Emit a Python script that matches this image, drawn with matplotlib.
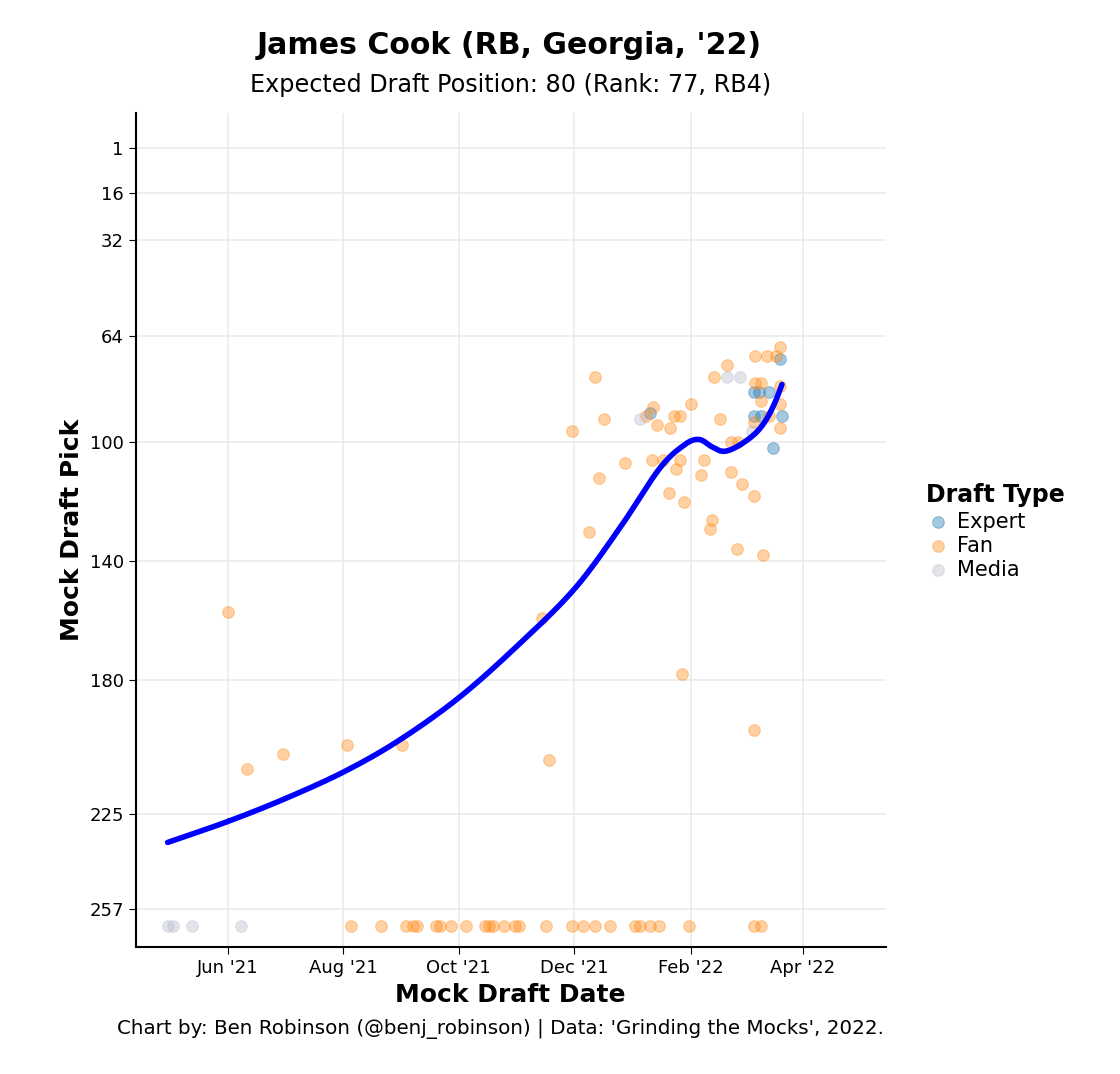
import matplotlib.pyplot as plt
import matplotlib.dates as mdates
import numpy as np
import pandas as pd

# draft picks (263 = undrafted row)
expert_dates = ['2022-01-10', '2022-03-06', '2022-03-09', '2022-03-06', '2022-03-10',
                '2022-03-14', '2022-03-20', '2022-03-21', '2022-03-16']
expert_picks = [90, 83, 83, 91, 91, 83, 72, 91, 102]

media_dates = ['2021-04-30', '2021-05-03', '2021-05-13', '2021-06-08',
               '2022-01-05', '2022-02-20', '2022-02-27', '2022-03-05']
media_picks = [263, 263, 263, 263, 92, 78, 78, 96]

fan_dates = ['2021-06-01', '2021-06-11', '2021-06-30', '2021-08-03', '2021-09-01',
             '2021-11-18', '2021-11-14', '2021-11-30', '2021-12-09', '2021-12-12',
             '2021-12-14', '2021-12-17', '2021-12-28', '2022-01-08', '2022-01-12',
             '2022-01-11', '2022-01-14', '2022-01-17', '2022-01-20', '2022-01-21',
             '2022-01-23', '2022-01-24', '2022-01-26', '2022-01-26', '2022-01-28',
             '2022-01-27', '2022-02-01', '2022-02-06', '2022-02-08', '2022-02-11',
             '2022-02-12', '2022-02-13', '2022-02-16', '2022-02-20', '2022-02-22',
             '2022-02-22', '2022-02-25', '2022-02-26', '2022-02-28', '2022-03-06',
             '2022-03-06', '2022-03-07', '2022-03-07', '2022-03-10', '2022-03-10',
             '2022-03-06', '2022-03-11', '2022-03-13', '2022-03-14', '2022-03-18',
             '2022-03-20', '2022-03-20', '2022-03-20', '2022-03-20',
             '2021-08-05', '2021-08-21', '2021-09-03', '2021-09-07', '2021-09-09',
             '2021-09-19', '2021-09-21', '2021-09-27', '2021-10-05', '2021-10-15',
             '2021-10-17', '2021-10-19', '2021-10-25', '2021-10-31', '2021-11-02',
             '2021-11-16', '2021-11-30', '2021-12-06', '2021-12-12', '2021-12-20',
             '2022-01-02', '2022-01-05', '2022-01-10', '2022-01-15', '2022-01-31',
             '2022-03-06', '2022-03-10']
fan_picks = [157, 210, 205, 202, 202, 207, 159, 96, 130, 78,
             112, 92, 107, 91, 88, 106, 94, 106, 117, 95,
             91, 109, 91, 106, 120, 178, 87, 111, 106, 129,
             126, 78, 92, 74, 100, 110, 136, 100, 114, 118,
             197, 71, 80, 80, 86, 93, 138, 71, 91, 71,
             68, 81, 87, 95] + [263] * 27

# smoothed trend line
trend_dates = ['2021-04-30', '2021-06-01', '2021-07-01', '2021-08-01', '2021-08-30',
               '2021-10-01', '2021-11-01', '2021-12-01', '2021-12-25', '2022-01-15',
               '2022-01-28', '2022-02-05', '2022-02-12', '2022-02-18', '2022-02-25',
               '2022-03-06', '2022-03-12', '2022-03-17', '2022-03-21']
trend_picks = [234.7, 227.6, 220, 211, 200.5, 186, 168.5, 149.5, 129, 109,
               101, 99, 101.5, 103, 101.5, 97.5, 93, 87, 80.5]

y_ticks = [1, 16, 32, 64, 100, 140, 180, 225, 257]


def smooth_curve(x, y, n=20):
    # Catmull-Rom spline through the read points
    x = np.asarray(x, float)
    y = np.asarray(y, float)
    px = np.concatenate([[2 * x[0] - x[1]], x, [2 * x[-1] - x[-2]]])
    py = np.concatenate([[2 * y[0] - y[1]], y, [2 * y[-1] - y[-2]]])
    t = np.linspace(0, 1, n)[:, None]
    xs, ys = [], []
    for i in range(1, len(px) - 2):
        for p, out in ((px, xs), (py, ys)):
            p0, p1, p2, p3 = p[i - 1], p[i], p[i + 1], p[i + 2]
            out.append((0.5 * (2 * p1 + (-p0 + p2) * t + (2 * p0 - 5 * p1 + 4 * p2 - p3) * t ** 2
                               + (-p0 + 3 * p1 - 3 * p2 + p3) * t ** 3)).ravel())
    return np.concatenate(xs), np.concatenate(ys)


groups = [('Expert', expert_dates, expert_picks, '#1f77b4'),
          ('Fan', fan_dates, fan_picks, '#ff8c1a'),
          ('Media', media_dates, media_picks, '#b8bccb')]

fig = plt.figure(figsize=(11.2, 10.74), dpi=100)
ax = fig.add_axes([0.121, 0.118, 0.67, 0.777])

for name, d, p, c in groups:
    ax.scatter(pd.to_datetime(d), p, s=70, color=c, alpha=0.4, edgecolors=c,
               linewidths=0.8, label=name, zorder=2)

tx, ty = smooth_curve(mdates.date2num(pd.to_datetime(trend_dates)), trend_picks)
ax.plot(mdates.num2date(tx), ty, color='#0000ff', linewidth=4,
        solid_joinstyle='round', solid_capstyle='round', zorder=3)

ax.set_ylim(270, -11)
ax.set_yticks(y_ticks)
ax.set_xlim(pd.Timestamp('2021-04-13'), pd.Timestamp('2022-05-15'))
ax.xaxis.set_major_locator(mdates.MonthLocator(bymonth=[2, 4, 6, 8, 10, 12]))
ax.xaxis.set_major_formatter(mdates.DateFormatter("%b '%y"))
ax.grid(True, color='#ebebeb', linewidth=1.2)
ax.set_axisbelow(True)
for s in ['top', 'right']:
    ax.spines[s].set_visible(False)
for s in ['left', 'bottom']:
    ax.spines[s].set_linewidth(1.5)
ax.tick_params(labelsize=13, length=5)

ax.set_xlabel('Mock Draft Date', fontsize=18, fontweight='bold')
ax.set_ylabel('Mock Draft Pick', fontsize=18, fontweight='bold')
fig.text(0.455, 0.958, "James Cook (RB, Georgia, '22)", ha='center', va='center',
         fontsize=21.6, fontweight='bold')
fig.text(0.456, 0.921, "Expected Draft Position: 80 (Rank: 77, RB4)", ha='center', va='center',
         fontsize=17.2)
fig.text(0.447, 0.042, "Chart by: Ben Robinson (@benj_robinson) | Data: 'Grinding the Mocks', 2022.",
         ha='center', va='center', fontsize=14.3)

leg = fig.legend(loc='center left', bbox_to_anchor=(0.81, 0.505), frameon=False, fontsize=15,
                 title='Draft Type', title_fontproperties={'weight': 'bold', 'size': 17},
                 handletextpad=0.3, handlelength=1.2, labelspacing=0.2)
leg._legend_box.align = 'left'

plt.savefig('out.png', dpi=100, facecolor='white')
